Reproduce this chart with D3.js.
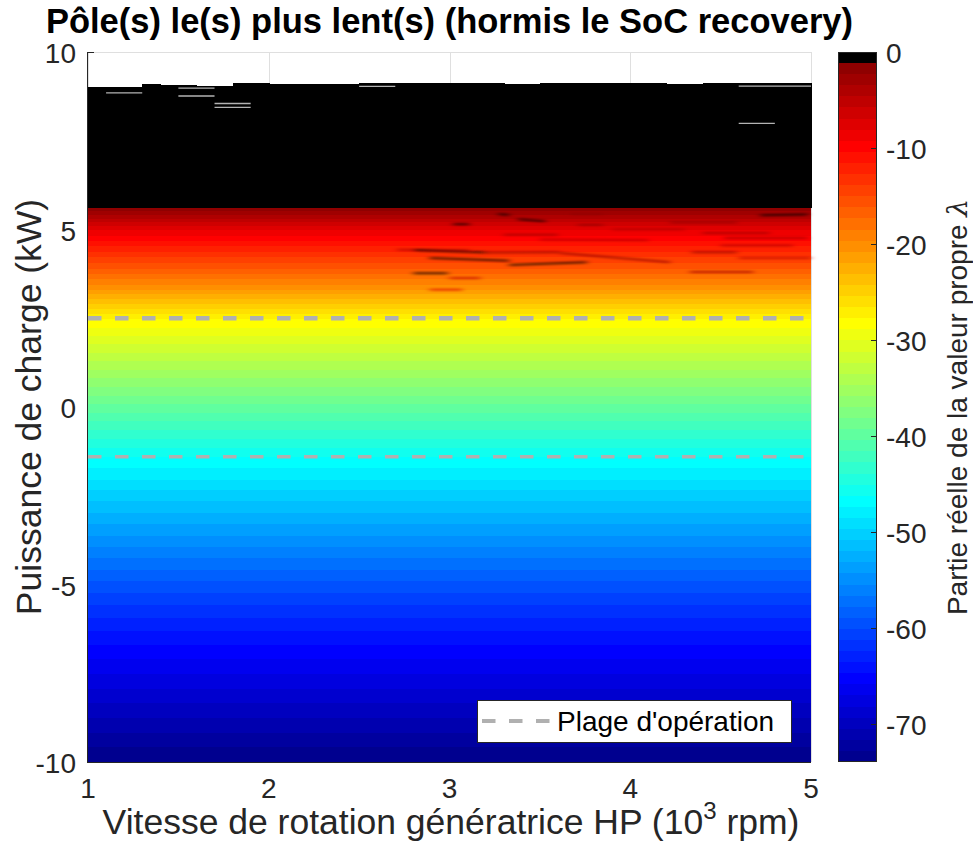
<!DOCTYPE html>
<html><head><meta charset="utf-8">
<script src="https://cdn.jsdelivr.net/npm/d3@7"></script>
<style>
body{margin:0;background:#fff}
svg{display:block}
text{font-family:"Liberation Sans",Arial,Helvetica,sans-serif}
</style>
</head><body>
<svg id="c" width="973" height="845"></svg>
<script>
// ---------------- DATA ----------------
const powerGrid  = [-10,-9.5,-9,-8.5,-8,-7.5,-7,-6.5,-6,-5.5,-5,-4.5,-4,-3.5,-3,-2.5,-2,-1.5,-1,-0.5,0,0.5,1,1.5,2,2.5,3,3.5,4,4.5,5,5.5,5.6];
const lambdaGrid = [-74,-72.6,-71.2,-69.8,-68.4,-67.0,-65.6,-64.2,-62.6,-61.0,-59.3,-57.5,-55.7,-53.9,-52.1,-50.3,-48.4,-46.6,-44.4,-42.1,-39.7,-37.3,-34.9,-32.5,-30.1,-27.6,-23.4,-19.2,-15.4,-11.8,-7.9,-2.6,-1.2];
// region where lambda ~ 0 (black): from P=5.6 up to a per-speed upper edge
const plateauStart = 5.6;
const plateauLambda = 0;
// [speedStart, speedEnd, P upper edge]
const plateauTop = [[1.0,1.3,9.02],[1.3,1.4,9.09],[1.4,1.6,9.07],[1.6,1.8,9.05],[1.8,2.0,9.12],[2.0,2.5,9.10],[2.5,3.3,9.12],[3.3,3.5,9.09],[3.5,4.2,9.12],[4.2,4.4,9.09],[4.4,5.0,9.12]];
// missing (NaN) thin rows inside the plateau: [speedStart, speedEnd, P]
const nanRows = [[1.1,1.3,8.85],[1.5,1.7,8.98],[1.5,1.7,8.76],[1.7,1.9,8.55],[1.7,1.9,8.44],[4.6,4.8,7.99],[2.5,2.7,9.03],[4.6,5.0,9.04]];
// local pole anomalies (dark streaks): [speed0, P0, speed1, P1, lambda]
const streaks = [
 [3.27,5.44,3.33,5.41,-0.2],[3.38,5.29,3.53,5.23,-0.2],[2.71,4.43,3.11,4.41,-3.5],
 [2.80,4.42,3.21,4.35,-0.6],[3.21,4.35,3.61,4.36,-1.4],[3.61,4.34,4.22,4.08,-1.4],
 [2.89,4.20,3.33,4.12,-0.6],[3.33,4.00,3.76,4.08,-0.9],[2.80,3.77,2.99,3.77,-0.9],
 [3.02,5.15,3.11,5.15,-0.9],[4.33,3.80,4.68,3.80,-2.5],[2.89,3.30,3.07,3.30,-8],
 [3.00,3.63,3.17,3.63,-5],[4.22,5.20,4.59,5.20,-2],[4.40,4.90,4.77,4.90,-2.5],
 [4.34,4.36,4.59,4.36,-2],[4.72,5.40,4.98,5.42,-1],[4.52,4.76,4.98,4.76,-3],
 [3.67,5.44,3.85,5.44,-1.5],[3.71,5.13,3.85,5.13,-2],[3.9,5.0,4.3,5.0,-4],
 [4.5,4.55,4.9,4.55,-4],[4.6,4.2,5.0,4.2,-5],[3.5,4.72,4.1,4.70,-4],[3.3,4.85,3.6,4.85,-3]
];
const operatingRange = [2.5,-1.4];
const xTicks = [1,2,3,4,5];
const yTicks = [-10,-5,0,5,10];
const cbTicks = [0,-10,-20,-30,-40,-50,-60,-70];
const cLim = [-74,0];
const nColors = 64;

// ---------------- LAYOUT ----------------
const L=88, R=811, T=52, B=762;
const cbL=838, cbR=877;
const svg=d3.select("#c");
const x=d3.scaleLinear().domain([1,5]).range([L,R]);
const y=d3.scaleLinear().domain([-10,10]).range([B,T]);
const lam=d3.scaleLinear().domain(powerGrid).range(lambdaGrid);
const cb=d3.scaleLinear().domain(cLim).range([B,T]);

// MATLAB jet(m) with top entry replaced by black
function jetMap(m){
  const n=Math.ceil(m/4);
  const u=[];
  for(let i=1;i<=n;i++)u.push(i/n);
  for(let i=1;i<n;i++)u.push(1);
  for(let i=n;i>=1;i--)u.push(i/n);
  const g0=Math.ceil(n/2)-(m%4===1?1:0);
  const rr=new Array(m).fill(0),gg=new Array(m).fill(0),bb=new Array(m).fill(0);
  u.forEach((v,k)=>{const gi=g0+k+1,ri=gi+n,bi=gi-n;
    if(gi>=1&&gi<=m)gg[gi-1]=v; if(ri>=1&&ri<=m)rr[ri-1]=v; if(bi>=1&&bi<=m)bb[bi-1]=v;});
  const out=[];for(let i=0;i<m;i++)out.push(d3.rgb(rr[i]*255,gg[i]*255,bb[i]*255).formatHex());
  out[m-1]="#000000";
  return out;
}
const cmap=jetMap(nColors);
function colIdx(v){let k=Math.floor((v-cLim[0])/(cLim[1]-cLim[0])*nColors);return Math.max(0,Math.min(nColors-1,k));}
function color(v){return cmap[colIdx(v)];}

// ---------------- GRID ----------------
const grid=svg.append("g").attr("stroke","#dfdfdf").attr("stroke-width",1).attr("shape-rendering","crispEdges");
xTicks.forEach(t=>grid.append("line").attr("x1",Math.round(x(t))+0.5).attr("x2",Math.round(x(t))+0.5).attr("y1",T).attr("y2",B));
yTicks.forEach(t=>grid.append("line").attr("x1",L).attr("x2",R).attr("y1",Math.round(y(t))+0.5).attr("y2",Math.round(y(t))+0.5));

// ---------------- HEATMAP ----------------
const hm=svg.append("g").attr("shape-rendering","crispEdges");
const yTopPix=Math.round(y(plateauStart)), yBotPix=B;
let runStart=yTopPix, runIdx=null;
const runs=[];
for(let py=yTopPix;py<yBotPix;py++){
  const p=y.invert(py+0.5);
  const k=colIdx(lam(Math.max(-10,Math.min(plateauStart,p))));
  if(runIdx===null){runIdx=k;runStart=py;}
  else if(k!==runIdx){runs.push([runStart,py,runIdx]);runStart=py;runIdx=k;}
}
runs.push([runStart,yBotPix,runIdx]);
hm.selectAll("rect.band").data(runs).join("rect").attr("class","band")
  .attr("x",x(1)).attr("width",x(5)-x(1))
  .attr("y",d=>d[0]).attr("height",d=>d[1]-d[0])
  .attr("fill",d=>cmap[d[2]]);
// plateau
hm.selectAll("rect.plat").data(plateauTop).join("rect").attr("class","plat")
  .attr("x",d=>Math.round(x(d[0]))).attr("width",d=>Math.round(x(d[1]))-Math.round(x(d[0]))+1)
  .attr("y",d=>Math.round(y(d[2]))).attr("height",d=>yTopPix-Math.round(y(d[2])))
  .attr("fill",color(plateauLambda));
// NaN rows
svg.append("g").selectAll("line.nan").data(nanRows).join("line").attr("class","nan")
  .attr("x1",d=>x(d[0])).attr("x2",d=>x(d[1])).attr("y1",d=>y(d[2])).attr("y2",d=>y(d[2]))
  .attr("stroke","#fff").attr("stroke-width",1.3).attr("opacity",0.7);
// streaks (soft)
const defs=svg.append("defs");
defs.append("filter").attr("id","soft").attr("x","-10%").attr("y","-200%").attr("width","120%").attr("height","500%")
  .append("feGaussianBlur").attr("stdDeviation","3 0.8");
svg.append("g").attr("filter","url(#soft)").selectAll("line.st").data(streaks).join("line").attr("class","st")
  .attr("x1",d=>x(d[0])).attr("x2",d=>x(d[2])).attr("y1",d=>y(d[1])).attr("y2",d=>y(d[3]))
  .attr("stroke",d=>color(d[4])).attr("stroke-width",2).attr("opacity",0.7);

// operating range
svg.append("g").selectAll("line").data(operatingRange).join("line")
  .attr("x1",x(1)).attr("x2",x(5)).attr("y1",d=>y(d)).attr("y2",d=>y(d))
  .attr("stroke","#b0b0b0").attr("stroke-width",(d,i)=>i===0?4.5:3.5).attr("stroke-dasharray","13.5,13.5");

// ---------------- AXES ----------------
const axCol="#262626";
const gy=svg.append("g").attr("shape-rendering","crispEdges");
gy.append("line").attr("x1",L-0.5).attr("x2",L-0.5).attr("y1",T).attr("y2",B+1).attr("stroke",axCol).attr("stroke-width",1);
gy.append("line").attr("x1",L).attr("x2",L+6).attr("y1",T+0.5).attr("y2",T+0.5).attr("stroke",axCol);
svg.append("g").selectAll("text").data(yTicks).join("text")
  .attr("x",L-12).attr("y",d=>y(d)).attr("dy","0.4em").attr("text-anchor","end")
  .attr("font-size",28).attr("fill",axCol).text(d=>d);
const gx=svg.append("g");
gx.append("line").attr("x1",L-0.5).attr("x2",R).attr("y1",B+0.5).attr("y2",B+0.5).attr("stroke",axCol).attr("stroke-width",1).attr("shape-rendering","crispEdges");
gx.selectAll("text").data(xTicks).join("text")
  .attr("x",d=>x(d)).attr("y",798).attr("text-anchor","middle")
  .attr("font-size",28).attr("fill",axCol).text(d=>d);

// labels
const xl=svg.append("text").attr("x",451).attr("y",834).attr("text-anchor","middle").attr("font-size",35.5).attr("fill",axCol);
xl.append("tspan").text("Vitesse de rotation génératrice HP (10");
xl.append("tspan").attr("font-size",24).attr("dy",-15).text("3");
xl.append("tspan").attr("dy",15).text(" rpm)");
svg.append("text").attr("transform",`translate(41,${(T+B)/2}) rotate(-90)`).attr("text-anchor","middle")
  .attr("font-size",35.5).attr("fill",axCol).text("Puissance de charge (kW)");
svg.append("text").attr("x",(L+R)/2).attr("y",33).attr("text-anchor","middle")
  .attr("font-size",34.5).attr("font-weight","bold").attr("fill","#000")
  .text("Pôle(s) le(s) plus lent(s) (hormis le SoC recovery)");

// ---------------- LEGEND ----------------
const lg=svg.append("g");
lg.append("rect").attr("x",477.5).attr("y",700.5).attr("width",314).attr("height",42).attr("fill","#fff").attr("stroke",axCol).attr("stroke-width",1);
lg.append("line").attr("x1",482).attr("x2",551).attr("y1",721).attr("y2",721).attr("stroke","#b0b0b0").attr("stroke-width",4).attr("stroke-dasharray","13.5,13.5");
lg.append("text").attr("x",557).attr("y",731).attr("font-size",28).attr("fill","#000").text("Plage d'opération");

// ---------------- COLORBAR ----------------
const cbg=svg.append("g").attr("shape-rendering","crispEdges");
const levels=d3.range(nColors);
const step=(cLim[1]-cLim[0])/nColors;
cbg.selectAll("rect").data(levels).join("rect")
  .attr("x",cbL).attr("width",cbR-cbL)
  .attr("y",i=>Math.round(cb(cLim[0]+(i+1)*step)))
  .attr("height",i=>Math.round(cb(cLim[0]+i*step))-Math.round(cb(cLim[0]+(i+1)*step)))
  .attr("fill",i=>cmap[i]);
cbg.append("rect").attr("x",cbL+0.5).attr("y",T+0.5).attr("width",cbR-cbL-1).attr("height",B-T-1).attr("fill","none").attr("stroke",axCol).attr("stroke-width",1);
cbg.selectAll("line.tk").data(cbTicks).join("line").attr("class","tk")
  .attr("x1",cbR-6).attr("x2",cbR).attr("y1",d=>Math.round(cb(d))+0.5).attr("y2",d=>Math.round(cb(d))+0.5).attr("stroke",axCol);
svg.append("g").selectAll("text").data(cbTicks).join("text")
  .attr("x",886).attr("y",d=>cb(d)).attr("dy","0.4em").attr("font-size",28).attr("fill",axCol).text(d=>d);
const cl=svg.append("text").attr("transform",`translate(967,${(T+B)/2}) rotate(-90)`).attr("text-anchor","middle")
  .attr("font-size",28).attr("fill",axCol);
cl.append("tspan").text("Partie réelle de la valeur propre ");
cl.append("tspan").attr("font-style","italic").attr("font-family","'DejaVu Serif',serif").text("λ");
</script>
</body></html>
